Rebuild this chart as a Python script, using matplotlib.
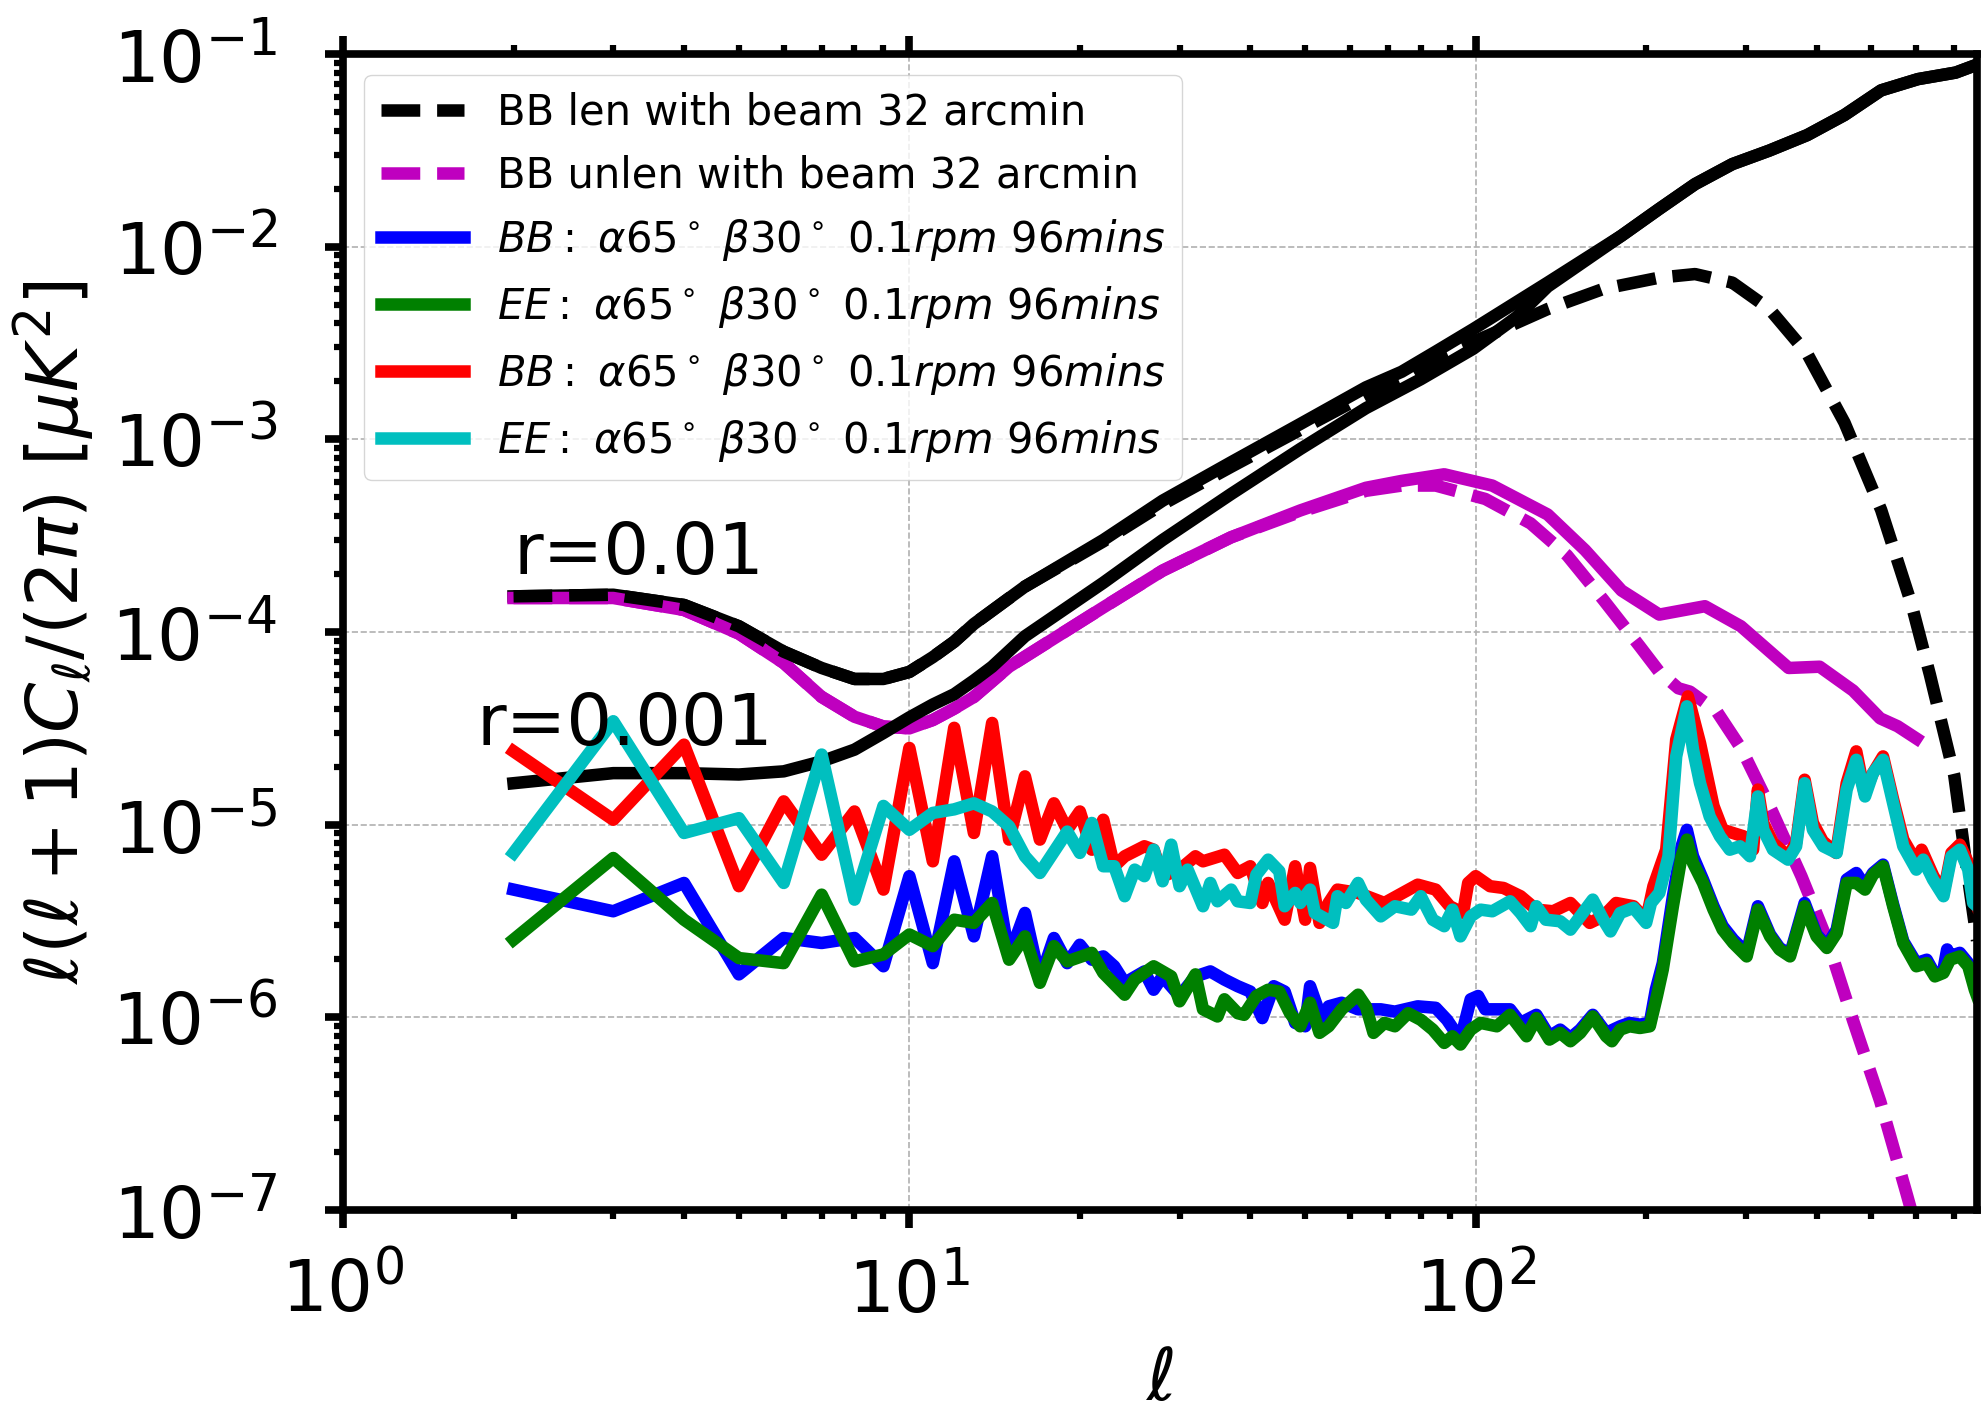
import matplotlib
matplotlib.use('Agg')
import matplotlib.pyplot as plt

# ---- theory BB spectra, D_ell [uK^2] ----
ell_tot = [2, 3, 4, 5, 6, 7, 8, 9, 10, 11, 12, 13, 16, 22, 28, 37, 49, 64, 74, 85, 99,
           134, 181, 211, 244, 284, 330, 385, 448, 520, 604, 704, 768]
bb_tot_r01 = [1.53e-4, 1.56e-4, 1.38e-4, 1.07e-4, 7.9e-5, 6.5e-5, 5.7e-5, 5.7e-5, 6.2e-5, 7.4e-5,
              8.9e-5, 1.1e-4, 1.72e-4, 3.0e-4, 4.8e-4, 7.6e-4, 1.2e-3, 1.86e-3, 2.24e-3, 2.85e-3,
              3.73e-3, 6.5e-3, 1.14e-2, 1.57e-2, 2.11e-2, 2.68e-2, 3.15e-2, 3.79e-2, 4.82e-2,
              6.47e-2, 7.4e-2, 8.0e-2, 8.8e-2]

ell_tot2 = [2, 3, 4, 5, 6, 7, 8, 9, 10, 11, 12, 13, 14, 16, 22, 28, 37, 49, 64, 80, 99, 118,
            134, 181, 211, 244, 284, 330, 385, 448, 520, 604, 704, 768]
bb_tot_r001 = [1.64e-5, 1.85e-5, 1.85e-5, 1.82e-5, 1.89e-5, 2.13e-5, 2.45e-5, 2.99e-5, 3.6e-5,
               4.2e-5, 4.75e-5, 5.6e-5, 6.6e-5, 9.5e-5, 1.8e-4, 3.0e-4, 5.2e-4, 8.9e-4, 1.45e-3,
               2.05e-3, 2.95e-3, 4.3e-3, 6.2e-3, 1.14e-2, 1.57e-2, 2.11e-2, 2.68e-2, 3.15e-2,
               3.79e-2, 4.82e-2, 6.47e-2, 7.4e-2, 8.0e-2, 8.8e-2]

ell_len_beam = [2, 3, 4, 5, 6, 7, 8, 9, 10, 11, 12, 13, 16, 22, 28, 37, 49, 64, 74, 85, 107,
                134, 168, 211, 244, 284, 330, 385, 448, 520, 588, 634, 700, 741, 768]
bb_len_beam = [1.53e-4, 1.56e-4, 1.38e-4, 1.07e-4, 7.9e-5, 6.5e-5, 5.7e-5, 5.7e-5, 6.2e-5, 7.4e-5,
               8.9e-5, 1.1e-4, 1.72e-4, 2.95e-4, 4.6e-4, 7.2e-4, 1.12e-3, 1.7e-3, 2.05e-3, 2.64e-3,
               3.53e-3, 4.74e-3, 6.03e-3, 6.9e-3, 7.2e-3, 6.5e-3, 4.75e-3, 2.78e-3, 1.22e-3,
               4.3e-4, 1.4e-4, 6.0e-5, 1.8e-5, 5.2e-6, 2.5e-6]

ell_unlen = [2, 3, 4, 5, 6, 7, 8, 9, 10, 11, 12, 13, 15, 22, 28, 37, 49, 64, 74, 88, 107, 134,
             156, 181, 211, 254, 294, 357, 405, 464, 518, 556, 600]
bb_unlen = [1.50e-4, 1.50e-4, 1.30e-4, 9.8e-5, 6.9e-5, 4.6e-5, 3.63e-5, 3.23e-5, 3.16e-5, 3.49e-5,
            4.0e-5, 4.6e-5, 6.6e-5, 1.34e-4, 2.08e-4, 3.1e-4, 4.27e-4, 5.6e-4, 6.08e-4, 6.58e-4,
            5.75e-4, 4.07e-4, 2.66e-4, 1.64e-4, 1.23e-4, 1.36e-4, 1.07e-4, 6.5e-5, 6.6e-5,
            4.96e-5, 3.56e-5, 3.24e-5, 2.8e-5]

ell_unlen_beam = [2, 3, 4, 5, 6, 7, 8, 9, 10, 11, 12, 13, 15, 22, 28, 37, 49, 64, 74, 85, 104,
                  125, 145, 168, 195, 211, 228, 239, 266, 295, 333, 376, 418, 464, 518, 576, 600]
bb_unlen_beam = [1.50e-4, 1.50e-4, 1.30e-4, 9.8e-5, 6.9e-5, 4.6e-5, 3.63e-5, 3.23e-5, 3.16e-5,
                 3.49e-5, 4.0e-5, 4.6e-5, 6.6e-5, 1.34e-4, 2.08e-4, 3.1e-4, 4.2e-4, 5.4e-4,
                 5.75e-4, 5.75e-4, 4.9e-4, 3.66e-4, 2.5e-4, 1.47e-4, 8.4e-5, 6.2e-5, 5.1e-5,
                 4.9e-5, 3.9e-5, 2.46e-5, 1.19e-5, 5.4e-6, 2.5e-6, 9.6e-7, 3.67e-7, 1.23e-7, 8e-8]

# ---- simulated residual spectra ----
ell_blue = [2, 3, 4, 5, 6, 7, 8, 9, 10, 11, 12, 13, 14, 15, 16, 17, 18, 19, 20, 21, 22, 23, 24,
            26, 27, 28, 30, 32, 34, 36, 38, 40, 42, 44, 46, 48, 50, 51, 54, 55, 58, 62, 68, 72,
            79, 85, 89, 94, 98, 101, 104, 108, 115, 120, 128, 135, 141, 147, 153, 161, 170, 180,
            187, 195, 203, 208, 214, 223, 231, 236, 242, 252, 263, 273, 285, 301, 315, 331, 344,
            359, 381, 400, 417, 434, 452, 470, 487, 503, 524, 546, 569, 600, 626, 647, 669, 680,
            687, 716, 741, 761, 768]
bb_blue = [4.60e-6, 3.55e-6, 4.98e-6, 1.67e-6, 2.58e-6, 2.43e-6, 2.58e-6, 1.84e-6, 5.40e-6,
           1.91e-6, 6.45e-6, 2.63e-6, 6.85e-6, 2.07e-6, 3.48e-6, 1.57e-6, 2.58e-6, 1.91e-6,
           2.38e-6, 1.99e-6, 2.07e-6, 1.84e-6, 1.51e-6, 1.73e-6, 1.39e-6, 1.63e-6, 1.29e-6,
           1.63e-6, 1.73e-6, 1.57e-6, 1.45e-6, 1.36e-6, 9.9e-7, 1.45e-6, 1.36e-6, 9.35e-7,
           8.98e-7, 1.45e-6, 8.98e-7, 1.14e-6, 1.19e-6, 1.10e-6, 1.10e-6, 1.07e-6, 1.14e-6,
           1.12e-6, 9.7e-7, 7.66e-7, 1.24e-6, 1.29e-6, 1.10e-6, 1.10e-6, 1.10e-6, 9.35e-7,
           1.03e-6, 7.97e-7, 8.63e-7, 7.81e-7, 8.63e-7, 1.03e-6, 8.3e-7, 8.98e-7, 9.35e-7,
           9.16e-7, 9.35e-7, 1.39e-6, 1.91e-6, 4.25e-6, 7.72e-6, 9.4e-6, 6.85e-6, 5.19e-6,
           3.77e-6, 2.97e-6, 2.53e-6, 2.16e-6, 3.77e-6, 2.69e-6, 2.29e-6, 2.12e-6, 3.92e-6,
           2.69e-6, 2.34e-6, 2.85e-6, 5.19e-6, 5.61e-6, 4.79e-6, 5.61e-6, 6.2e-6, 3.85e-6,
           2.48e-6, 1.91e-6, 1.99e-6, 1.67e-6, 1.73e-6, 2.25e-6, 2.07e-6, 2.16e-6, 1.91e-6,
           1.45e-6, 1.34e-6]

ell_green = [2, 3, 4, 5, 6, 7, 8, 9, 10, 11, 12, 13, 14, 15, 16, 17, 18, 19, 21, 22, 24, 25,
             27, 29, 30, 32, 33, 35, 36, 38, 39, 41, 43, 45, 47, 49, 51, 53, 55, 58, 62, 64, 66,
             69, 72, 76, 80, 84, 88, 91, 94, 98, 102, 109, 115, 123, 128, 135, 141, 147, 153,
             161, 170, 174, 180, 187, 195, 203, 209, 214, 223, 231, 236, 242, 252, 263, 273, 285,
             301, 315, 331, 344, 359, 381, 400, 417, 434, 452, 470, 487, 503, 524, 546, 569, 600,
             626, 647, 670, 688, 716, 741, 761, 768]
ee_green = [2.53e-6, 6.71e-6, 3.21e-6, 2.03e-6, 1.91e-6, 4.33e-6, 1.95e-6, 2.12e-6, 2.69e-6,
            2.34e-6, 3.21e-6, 3.09e-6, 3.92e-6, 1.99e-6, 2.63e-6, 1.51e-6, 2.34e-6, 1.95e-6,
            2.16e-6, 1.70e-6, 1.31e-6, 1.57e-6, 1.84e-6, 1.63e-6, 1.21e-6, 1.67e-6, 1.10e-6,
            1.01e-6, 1.24e-6, 1.05e-6, 1.03e-6, 1.29e-6, 1.39e-6, 1.36e-6, 1.05e-6, 8.98e-7,
            1.19e-6, 8.3e-7, 8.98e-7, 1.10e-6, 1.31e-6, 1.14e-6, 8.3e-7, 9.35e-7, 8.98e-7,
            1.05e-6, 9.7e-7, 8.63e-7, 7.36e-7, 7.97e-7, 7.22e-7, 8.63e-7, 9.35e-7, 8.98e-7,
            1.03e-6, 7.97e-7, 9.9e-7, 7.66e-7, 8.3e-7, 7.51e-7, 8.3e-7, 1.01e-6, 7.97e-7,
            7.51e-7, 8.63e-7, 8.98e-7, 8.8e-7, 8.98e-7, 1.29e-6, 1.77e-6, 3.77e-6, 6.85e-6,
            8.36e-6, 6.32e-6, 4.98e-6, 3.62e-6, 2.85e-6, 2.43e-6, 2.07e-6, 3.62e-6, 2.63e-6,
            2.25e-6, 2.07e-6, 3.77e-6, 2.63e-6, 2.29e-6, 2.74e-6, 4.98e-6, 4.98e-6, 4.60e-6,
            5.50e-6, 6.08e-6, 3.77e-6, 2.43e-6, 1.84e-6, 1.91e-6, 1.63e-6, 1.70e-6, 1.99e-6,
            2.07e-6, 1.84e-6, 1.39e-6, 1.29e-6]

ell_red = [2, 3, 4, 5, 6, 7, 8, 9, 10, 11, 12, 13, 14, 15, 16, 17, 18, 19, 20, 21, 22, 23, 24,
           26, 27, 28, 30, 32, 33, 36, 38, 40, 42, 43, 46, 48, 50, 51, 53, 55, 57, 62, 69, 79,
           85, 90, 95, 97, 100, 106, 112, 120, 128, 137, 147, 159, 168, 177, 190, 200, 206, 217,
           226, 237, 249, 263, 273, 297, 309, 315, 322, 335, 356, 368, 381, 394, 410, 433, 452,
           470, 486, 503, 524, 546, 569, 601, 613, 643, 670, 692, 716, 741, 756, 768]
bb_red = [2.40e-5, 1.06e-5, 2.60e-5, 4.79e-6, 1.32e-5, 6.98e-6, 1.17e-5, 4.60e-6, 2.50e-5,
          6.45e-6, 3.18e-5, 9.05e-6, 3.37e-5, 8.36e-6, 1.78e-5, 8.36e-6, 1.29e-5, 9.4e-6,
          1.17e-5, 7.41e-6, 1.06e-5, 6.08e-6, 6.85e-6, 7.72e-6, 7.41e-6, 5.40e-6, 5.84e-6,
          6.85e-6, 6.45e-6, 6.98e-6, 5.61e-6, 6.08e-6, 3.92e-6, 4.98e-6, 3.21e-6, 6.08e-6,
          3.21e-6, 5.96e-6, 3.09e-6, 3.92e-6, 4.60e-6, 4.42e-6, 3.92e-6, 4.88e-6, 4.60e-6,
          3.77e-6, 3.48e-6, 4.98e-6, 5.40e-6, 4.79e-6, 4.69e-6, 4.25e-6, 3.62e-6, 3.55e-6,
          3.92e-6, 3.09e-6, 3.34e-6, 3.92e-6, 3.77e-6, 3.21e-6, 4.79e-6, 7.41e-6, 2.76e-5,
          4.63e-5, 2.65e-5, 1.25e-5, 9.4e-6, 8.7e-6, 7.41e-6, 1.52e-5, 1.02e-5, 8.04e-6,
          6.85e-6, 8.04e-6, 1.71e-5, 1.02e-5, 8.2e-6, 7.13e-6, 1.64e-5, 2.40e-5, 1.46e-5,
          1.85e-5, 2.26e-5, 1.35e-5, 8.36e-6, 6.32e-6, 7.41e-6, 5.40e-6, 4.42e-6, 7.13e-6,
          7.87e-6, 6.32e-6, 4.25e-6, 3.77e-6]

ell_cyan = [2, 3, 4, 5, 6, 7, 8, 9, 10, 11, 12, 13, 14, 15, 16, 17, 19, 20, 21, 22, 23, 24, 25,
            26, 27, 28, 29, 30, 31, 33, 34, 35, 37, 38, 40, 41, 43, 45, 46, 48, 49, 51, 52, 56,
            57, 59, 62, 64, 68, 72, 77, 80, 84, 88, 91, 94, 98, 102, 107, 115, 120, 125, 128,
            133, 141, 147, 153, 161, 168, 173, 180, 190, 200, 204, 211, 219, 226, 236, 242, 249,
            259, 270, 281, 293, 305, 315, 322, 335, 356, 368, 381, 394, 411, 434, 452, 470, 487,
            503, 524, 546, 569, 600, 617, 642, 670, 692, 716, 741, 756, 768]
ee_cyan = [7.13e-6, 3.44e-5, 9.05e-6, 1.08e-5, 4.98e-6, 2.31e-5, 4.08e-6, 1.25e-5, 9.4e-6,
           1.15e-5, 1.20e-5, 1.29e-5, 1.17e-5, 9.8e-6, 6.85e-6, 5.61e-6, 9.2e-6, 7.13e-6,
           1.02e-5, 6.08e-6, 6.08e-6, 4.25e-6, 5.84e-6, 5.40e-6, 7.41e-6, 5.08e-6, 7.87e-6,
           4.79e-6, 5.84e-6, 3.77e-6, 4.98e-6, 4.00e-6, 4.60e-6, 4.00e-6, 3.92e-6, 5.50e-6,
           6.58e-6, 5.73e-6, 3.77e-6, 4.42e-6, 3.92e-6, 4.60e-6, 3.48e-6, 3.09e-6, 4.25e-6,
           3.92e-6, 4.98e-6, 4.08e-6, 3.34e-6, 3.77e-6, 3.62e-6, 4.25e-6, 3.21e-6, 2.97e-6,
           3.62e-6, 2.63e-6, 3.34e-6, 3.62e-6, 3.55e-6, 4.00e-6, 3.48e-6, 2.97e-6, 3.77e-6,
           3.21e-6, 3.15e-6, 2.85e-6, 3.34e-6, 4.08e-6, 3.21e-6, 2.79e-6, 3.48e-6, 3.70e-6,
           3.09e-6, 3.92e-6, 4.42e-6, 6.85e-6, 2.26e-5, 4.11e-5, 2.45e-5, 1.64e-5, 1.10e-5,
           8.7e-6, 7.41e-6, 7.72e-6, 6.85e-6, 1.40e-5, 9.4e-6, 7.41e-6, 6.58e-6, 7.72e-6,
           1.64e-5, 9.4e-6, 7.72e-6, 7.13e-6, 1.52e-5, 2.17e-5, 1.40e-5, 1.85e-5, 2.17e-5,
           1.29e-5, 7.72e-6, 5.84e-6, 6.58e-6, 5.19e-6, 4.25e-6, 6.85e-6, 7.41e-6, 5.84e-6,
           3.92e-6, 3.77e-6]

lab = r'$%s:\ \alpha 65^\circ\ \beta 30^\circ\ 0.1 rpm\ 96 mins$'
lw = 9.0
dash = (3.1, 1.35)

fig = plt.figure(figsize=(19.83, 14.15), dpi=100)
ax = fig.add_axes([0.1730, 0.1449, 0.8240, 0.8170])

ax.plot(ell_tot, bb_tot_r01, color='k', lw=lw)
ax.plot(ell_unlen, bb_unlen, color='m', lw=lw)
h2, = ax.plot(ell_unlen_beam, bb_unlen_beam, color='m', ls='--', dashes=dash, lw=lw,
              label='BB unlen with beam 32 arcmin')
ax.plot(ell_tot2, bb_tot_r001, color='k', lw=lw)
h1, = ax.plot(ell_len_beam, bb_len_beam, color='k', ls='--', dashes=dash, lw=lw,
              label='BB len with beam 32 arcmin')

h3, = ax.plot(ell_blue, bb_blue, color='b', lw=lw, label=lab % 'BB')
h4, = ax.plot(ell_green, ee_green, color='g', lw=lw, label=lab % 'EE')
h5, = ax.plot(ell_red, bb_red, color='r', lw=lw, label=lab % 'BB')
h6, = ax.plot(ell_cyan, ee_cyan, color='c', lw=lw, label=lab % 'EE')

ax.text(2.0, 2.0e-4, 'r=0.01', fontsize=52)
ax.text(1.72, 2.6e-5, 'r=0.001', fontsize=52)

ax.set_xscale('log')
ax.set_yscale('log')
ax.set_xlim(1, 768)
ax.set_ylim(1e-7, 1e-1)
ax.grid(True, which='major', ls='--', color='#b0b0b0', lw=1.2)

for s in ax.spines.values():
    s.set_linewidth(5.5)
ax.tick_params(which='major', direction='out', length=13, width=5.5, labelsize=52, top=True)
ax.tick_params(which='minor', direction='out', length=6.5, width=4.5, top=True)
ax.tick_params(axis='y', which='major', pad=34)
ax.tick_params(axis='x', which='major', pad=20)

ax.set_xlabel(r'$\ell$', fontsize=52)
ax.set_ylabel(r'$\ell(\ell+1)C_\ell/(2\pi)\ [\mu K^2]$', fontsize=52)
ax.xaxis.set_label_coords(0.5, -0.118)
ax.yaxis.set_label_coords(-0.150, 0.5)

ax.legend(handles=[h1, h2, h3, h4, h5, h6], loc='upper left', fontsize=30)

fig.savefig('out.png', dpi=100)
